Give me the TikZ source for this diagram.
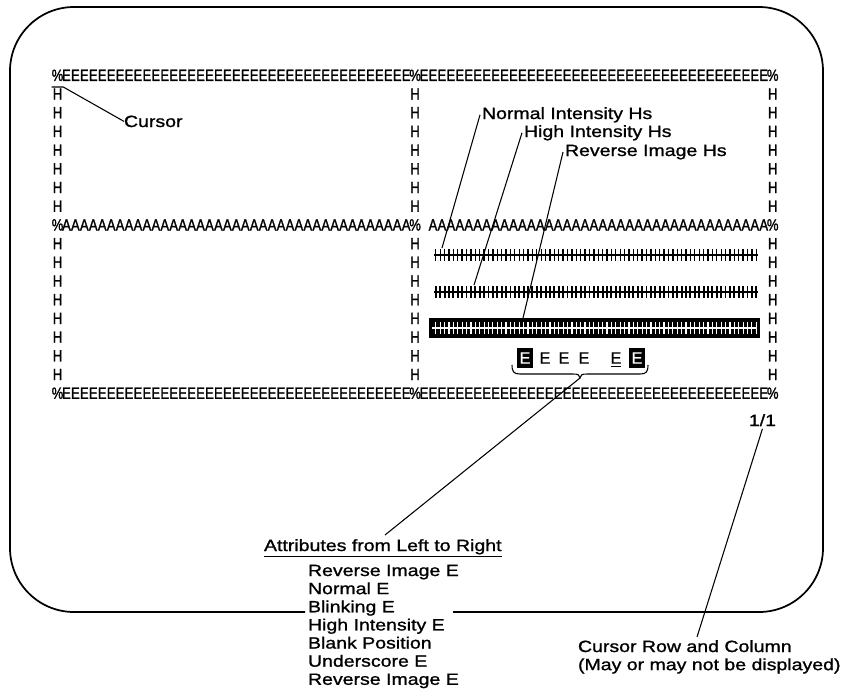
\documentclass[tikz,border=0pt]{standalone}
\usepackage{fontspec}
\setmainfont{Liberation Sans}[FakeBold=1]
\newfontfamily\lblfont{Liberation Sans}[FakeStretch=1.2, FakeBold=1.2]
\newfontfamily\gridfont{Liberation Sans}[FakeStretch=0.8, FakeBold=1.4]
\usetikzlibrary{positioning}

\begin{document}
\begin{tikzpicture}[
    x=0.75pt, y=-0.75pt,
    every node/.style={inner sep=0pt, outer sep=0pt},
    scr/.style={font=\gridfont\fontsize{12.2}{14}\selectfont, anchor=base},
    lbl/.style={font=\lblfont\fontsize{12.2}{14}\selectfont, anchor=base west},
    attE/.style={font=\fontsize{12.2}{14}\selectfont},
    revE/.style={attE, fill=black, text=white, minimum width=12pt, minimum height=15pt},
    frame/.style={line width=1.3pt, rounded corners=48pt},
    leader/.style={line width=0.8pt},
    tick/.style={line width=1pt},
    boldtick/.style={line width=1.4pt},
    whitetick/.style={line width=0.9pt, white}
]

\useasboundingbox (0,0) rectangle (845,693);

% screen frame, left open under the attribute list
\draw[frame] (305,612) -- (10,612) -- (10,7) -- (823,7) -- (823,612) -- (453,612);

% window borders
\foreach \c in {1,...,79} {
  \ifnum\c=40 \else
    \node[scr] (top\c) at ({57.5+8.94*\c},80.9) {E};
    \node[scr] (bot\c) at ({57.5+8.94*\c},398.8) {E};
  \fi
  \ifnum\c=40 \else\ifnum\c=41 \else
    \node[scr] (mid\c) at ({57.5+8.94*\c},230.5) {A};
  \fi\fi
}
\foreach \c in {0,40,80} {
  \node[scr] (pt\c) at ({57.5+8.94*\c},80.9) {\%};
  \node[scr] (pm\c) at ({57.5+8.94*\c},230.5) {\%};
  \node[scr] (pb\c) at ({57.5+8.94*\c},398.8) {\%};
  \foreach \r in {1,...,16} {
    \ifnum\r=8 \else
      \node[scr] (h\c-\r) at ({57.5+8.94*\c},{80.9+18.7*\r}) {H};
    \fi
  }
}

% cursor
\node[lbl] (cursor) at (124,127) {Cursor};
\draw[leader] ([yshift=-4.5pt]pt0.south west) -- ([yshift=-4.5pt]pt0.south east) -- (cursor.west);

% labels of the H rows
\node[lbl] (nrm) at (482,119) {Normal Intensity Hs};
\node[lbl] (hgh) at (524,137) {High Intensity Hs};
\node[lbl] (rev) at (565,156) {Reverse Image Hs};

% normal intensity Hs
\draw[leader] (434,255) -- (758,255);
\foreach \k in {0,...,36}
  \draw[tick] ({438+8.78*\k-2.2},249) -- ++(0,12) ({438+8.78*\k+2.2},249) -- ++(0,12);
\coordinate (nrmend) at (442,248);

% high intensity Hs
\draw[leader] (434,292) -- (758,292);
\foreach \k in {0,...,36}
  \draw[boldtick] ({438+8.78*\k-2.2},286) -- ++(0,12) ({438+8.78*\k+2.2},286) -- ++(0,12);
\coordinate (hghend) at (474,285);

% reverse image Hs
\node[fill=black, anchor=north west, minimum width=248pt, minimum height=15pt] (revbar) at (429,318) {};
\draw[whitetick] (432,328) -- (757,328);
\foreach \k in {0,...,36}
  \draw[whitetick] ({438+8.78*\k-2.2},322) -- ++(0,12) ({438+8.78*\k+2.2},322) -- ++(0,12);
\coordinate (revend) at (523,318);

\draw[leader] ([xshift=-1.5pt]nrm.west) -- (nrmend);
\draw[leader] ([xshift=-1.5pt]hgh.west) -- (hghend);
\draw[leader] ([xshift=-1.5pt]rev.west) -- (revend);

% attribute sample
\node[revE] (att1) at (525,358) {E};
\node[attE] (att2) at (545,358) {E};
\node[attE] (att3) at (564,358) {E};
\node[attE] (att4) at (584,358) {E};
\node[attE] (att6) at (616,358) {E};
\node[revE] (att7) at (637,358) {E};
\draw[line width=1pt] ([yshift=-2pt]att6.south west) -- ([yshift=-2pt]att6.south east);

\coordinate (brtip) at (580,378);
\draw[leader] (512,365) .. controls (512,372) and (514,374) .. (520,374) -- (573,374)
  .. controls (578,374) and (580,375) .. (brtip)
  .. controls (580,375) and (582,374) .. (587,374) -- (640,374)
  .. controls (646,374) and (648,372) .. (648,365);

% attribute list
\node[lbl] (attr) at (264,551) {\underline{Attributes from Left to Right}};
\coordinate (attrend) at (385,535);
\draw[leader] (brtip) -- (attrend);

\node[lbl] (l1) at (308,576) {Reverse Image E};
\node[lbl, below=13.6pt of l1.base west, anchor=base west] (l2) {Normal E};
\node[lbl, below=13.6pt of l2.base west, anchor=base west] (l3) {Blinking E};
\node[lbl, below=13.6pt of l3.base west, anchor=base west] (l4) {High Intensity E};
\node[lbl, below=13.6pt of l4.base west, anchor=base west] (l5) {Blank Position};
\node[lbl, below=13.6pt of l5.base west, anchor=base west] (l6) {Underscore E};
\node[lbl, below=13.6pt of l6.base west, anchor=base west] (l7) {Reverse Image E};

% cursor position
\node[lbl, anchor=base east] (pos) at (776,426) {1/1};
\node[lbl] (crc1) at (578,652) {Cursor Row and Column};
\node[lbl, below=13.6pt of crc1.base west, anchor=base west] (crc2) {(May or may not be displayed)};
\coordinate (crcend) at (697,637);
\draw[leader] ([yshift=-2pt]pos.south) -- (crcend);

\end{tikzpicture}
\end{document}
